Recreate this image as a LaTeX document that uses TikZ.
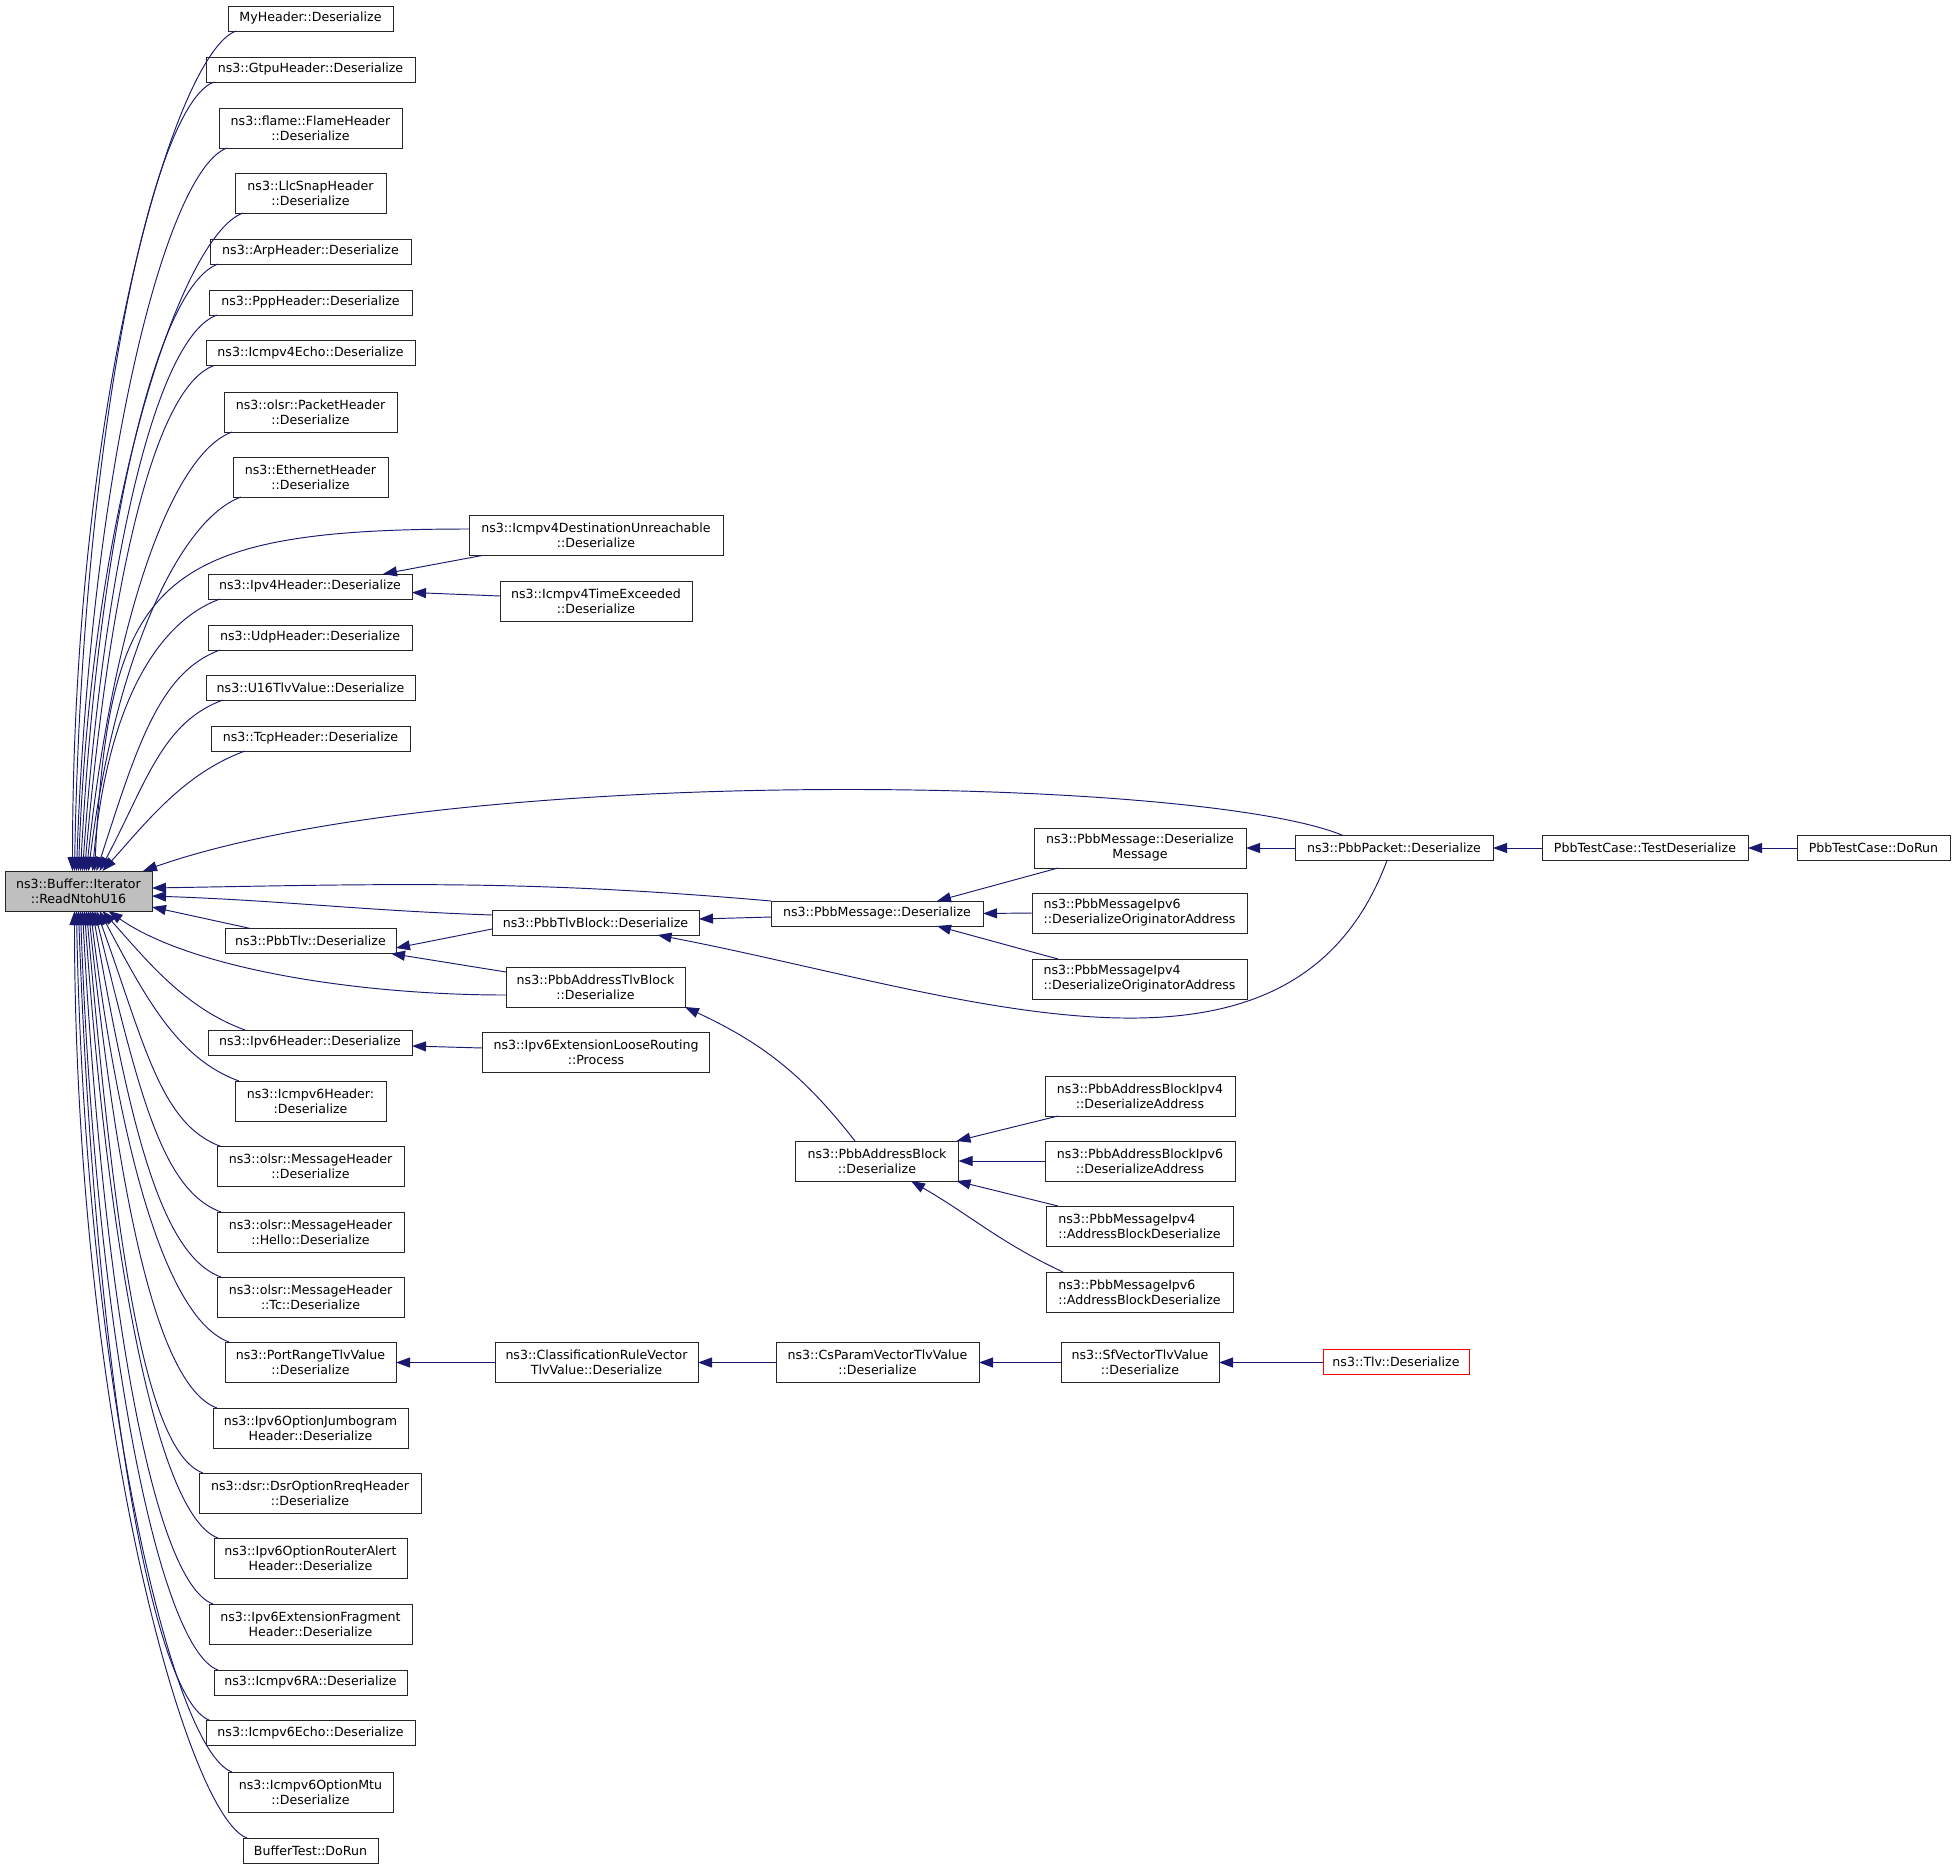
\documentclass[tikz,border=0pt]{standalone}
\usepackage{fontspec}
\setmainfont{DejaVu Sans}
\usepackage{xcolor}
\usepackage{tikz}
\usetikzlibrary{positioning,arrows.meta}
\definecolor{callblue}{HTML}{191970}
\definecolor{maingray}{HTML}{BFBFBF}

\begin{document}
\begin{tikzpicture}[
    x=1pt, y=1pt,
    node distance=49pt,
    outer sep=0pt,
    fn/.style={draw=black!85, fill=white, rectangle, line width=1pt, inner sep=0pt, minimum height=25pt, align=center, font=\fontsize{12.6}{15}\selectfont},
    fntwo/.style={fn, minimum height=40pt},
    call/.style={draw=callblue, line width=0.95pt, arrows={Triangle[length=14pt,width=10pt,fill=callblue]-}}
]
    \useasboundingbox (0,0) rectangle (1955,-1869);

    % the called function
    \node [fntwo, fill=maingray, minimum width=147pt] (main) at (78.5,-891) {ns3::Buffer::Iterator\\::ReadNtohU16};

    % direct callers
    \node [fn, minimum width=165pt] (myhdr) at (310.5,-18.5) {MyHeader::Deserialize};
    \node [fn, minimum width=209pt] (gtpu) at (310.5,-69.5) {ns3::GtpuHeader::Deserialize};
    \node [fntwo, minimum width=183pt] (flame) at (310.5,-128) {ns3::flame::FlameHeader\\::Deserialize};
    \node [fntwo, minimum width=151pt] (llc) at (310.5,-193) {ns3::LlcSnapHeader\\::Deserialize};
    \node [fn, minimum width=201pt] (arp) at (310.5,-251.5) {ns3::ArpHeader::Deserialize};
    \node [fn, minimum width=203pt] (ppp) at (310.5,-302.5) {ns3::PppHeader::Deserialize};
    \node [fn, minimum width=209pt] (icmpfourecho) at (310.5,-353) {ns3::Icmpv4Echo::Deserialize};
    \node [fntwo, minimum width=173pt] (olsrpkt) at (310.5,-412) {ns3::olsr::PacketHeader\\::Deserialize};
    \node [fntwo, minimum width=155pt] (eth) at (310.5,-477) {ns3::EthernetHeader\\::Deserialize};
    \node [fn, minimum width=204pt] (ipfour) at (310,-586.5) {ns3::Ipv4Header::Deserialize};
    \node [fn, minimum width=204pt] (udp) at (310,-637.5) {ns3::UdpHeader::Deserialize};
    \node [fn, minimum width=209pt] (usixteen) at (310.5,-687.5) {ns3::U16TlvValue::Deserialize};
    \node [fn, minimum width=199pt] (tcp) at (310.5,-738.5) {ns3::TcpHeader::Deserialize};
    \node [fn, minimum width=171pt] (pbbtlv) at (310.5,-941) {ns3::PbbTlv::Deserialize};
    \node [fn, minimum width=204pt] (ipsix) at (310,-1042.5) {ns3::Ipv6Header::Deserialize};
    \node [fntwo, minimum width=151pt] (icmpsixhdr) at (310.5,-1101) {ns3::Icmpv6Header:\\:Deserialize};
    \node [fntwo, minimum width=187pt] (olsrmsg) at (310.5,-1166.5) {ns3::olsr::MessageHeader\\::Deserialize};
    \node [fntwo, minimum width=187pt] (hello) at (310.5,-1232) {ns3::olsr::MessageHeader\\::Hello::Deserialize};
    \node [fntwo, minimum width=187pt] (tc) at (310.5,-1297) {ns3::olsr::MessageHeader\\::Tc::Deserialize};
    \node [fntwo, minimum width=171pt] (portrange) at (310.5,-1362) {ns3::PortRangeTlvValue\\::Deserialize};
    \node [fntwo, minimum width=195pt] (jumbo) at (310.5,-1428) {ns3::Ipv6OptionJumbogram\\Header::Deserialize};
    \node [fntwo, minimum width=222pt] (dsr) at (310,-1493) {ns3::dsr::DsrOptionRreqHeader\\::Deserialize};
    \node [fntwo, minimum width=193pt] (routeralert) at (310.5,-1558) {ns3::Ipv6OptionRouterAlert\\Header::Deserialize};
    \node [fntwo, minimum width=203pt] (extfrag) at (310.5,-1624) {ns3::Ipv6ExtensionFragment\\Header::Deserialize};
    \node [fn, minimum width=193pt] (icmpsixra) at (310.5,-1682.5) {ns3::Icmpv6RA::Deserialize};
    \node [fn, minimum width=209pt] (icmpsixecho) at (310.5,-1733) {ns3::Icmpv6Echo::Deserialize};
    \node [fntwo, minimum width=165pt] (mtu) at (310.5,-1792) {ns3::Icmpv6OptionMtu\\::Deserialize};
    \node [fn, minimum width=135pt] (buftest) at (310.5,-1850.5) {BufferTest::DoRun};

    % second level
    \node [fntwo, minimum width=254pt] (destunreach) at (596,-535.5) {ns3::Icmpv4DestinationUnreachable\\::Deserialize};
    \node [fntwo, minimum width=192pt] (timeexc) at (596,-601) {ns3::Icmpv4TimeExceeded\\::Deserialize};
    \node [fn, minimum width=207pt] (tlvblock) at (595.5,-922.5) {ns3::PbbTlvBlock::Deserialize};
    \node [fntwo, minimum width=179pt] (addrtlvblock) at (595.5,-987) {ns3::PbbAddressTlvBlock\\::Deserialize};
    \node [fntwo, minimum width=227pt] (looserouting) at (596,-1052) {ns3::Ipv6ExtensionLooseRouting\\::Process};
    \node [fntwo, minimum width=203pt, right=99pt of portrange] (classrule) {ns3::ClassificationRuleVector\\TlvValue::Deserialize};

    % third level
    \node [fn, minimum width=212pt] (pbbmsg) at (877,-913.5) {ns3::PbbMessage::Deserialize};
    \node [fntwo, minimum width=163pt] (addrblock) at (877,-1161) {ns3::PbbAddressBlock\\::Deserialize};
    \node [fntwo, minimum width=203pt, right=78pt of classrule] (csparam) {ns3::CsParamVectorTlvValue\\::Deserialize};

    % fourth level
    \node [fntwo, minimum width=212pt] (desermsg) at (1140,-848) {ns3::PbbMessage::Deserialize\\Message};
    \node [fntwo, minimum width=215pt, align=left] (ipsixorig) at (1139.5,-913) {ns3::PbbMessageIpv6\\::DeserializeOriginatorAddress};
    \node [fntwo, minimum width=215pt, align=left] (ipfourorig) at (1139.5,-979) {ns3::PbbMessageIpv4\\::DeserializeOriginatorAddress};
    \node [fntwo, minimum width=190pt] (abipfour) at (1140,-1096) {ns3::PbbAddressBlockIpv4\\::DeserializeAddress};
    \node [fntwo, minimum width=190pt] (abipsix) at (1140,-1161) {ns3::PbbAddressBlockIpv6\\::DeserializeAddress};
    \node [fntwo, minimum width=187pt, align=left] (msgipfourab) at (1139.5,-1226) {ns3::PbbMessageIpv4\\::AddressBlockDeserialize};
    \node [fntwo, minimum width=187pt, align=left] (msgipsixab) at (1139.5,-1292) {ns3::PbbMessageIpv6\\::AddressBlockDeserialize};
    \node [fntwo, minimum width=158pt, right=82pt of csparam] (sfvector) {ns3::SfVectorTlvValue\\::Deserialize};

    % right end
    \node [fn, minimum width=198pt, right=of desermsg] (pbbpacket) {ns3::PbbPacket::Deserialize};
    \node [fn, draw=red, minimum width=146pt, right=104pt of sfvector] (tlv) {ns3::Tlv::Deserialize};
    \node [fn, minimum width=206pt, right=of pbbpacket] (testdeser) {PbbTestCase::TestDeserialize};
    \node [fn, minimum width=153pt, right=of testdeser] (dorun) {PbbTestCase::DoRun};

    % calls into main from above and below
    \foreach \n/\s/\a/\d/\t in {myhdr/-6/90/470/8, gtpu/-4/89/440/8, flame/-2/88/405/8, llc/0/88/370/8,
        arp/2/87/340/8, ppp/4/86/310/8, icmpfourecho/6/85/285/8, olsrpkt/8/84/250/8, eth/10/83/215/8,
        ipfour/14/85/170/12, udp/18/72/130/12, usixteen/21/62/100/17, tcp/24/48/65/34}
        \draw[call] ([xshift=\s pt]main.north) to[out=\a, in=200, out distance=\d pt, in distance=65pt] ([xshift=\t pt]\n.south west);
    \foreach \n/\s/\a/\d/\t in {ipsix/24/-48/65/37, icmpsixhdr/21/-62/100/4, olsrmsg/18/-70/140/4, hello/16/-76/180/4,
        tc/14/-80/215/4, portrange/12/-83/250/4, jumbo/10/-84/285/4, dsr/8/-85/315/4, routeralert/6/-86/345/4,
        extfrag/4/-87/380/4, icmpsixra/2/-88/410/4, icmpsixecho/0/-88/440/4, mtu/-2/-89/465/4, buftest/-4/-90/500/4}
        \draw[call] ([xshift=\s pt]main.south) to[out=\a, in=160, out distance=\d pt, in distance=65pt] ([xshift=\t pt]\n.north west);

    \draw[call] ([xshift=16pt]main.north) to[out=87, in=180, out distance=290pt, in distance=315pt] ([yshift=6.5pt]destunreach.west);
    \draw[call] ([xshift=-9pt]main.north east) .. controls +(307,108) and +(-143,60) .. ([xshift=-51pt]pbbpacket.north);
    \draw[call] ([yshift=3pt]main.east) to[out=1, in=175] (pbbmsg.north west);
    \draw[call] ([yshift=-5pt]main.east) to[out=-2, in=178] ([yshift=7.5pt]tlvblock.west);
    \draw[call] ([yshift=4pt]main.south east) -- ([xshift=-60pt]pbbtlv.north);
    \draw[call] ([xshift=30pt]main.south) to[out=-35, in=180, out distance=100pt, in distance=150pt] ([yshift=-8pt]addrtlvblock.west);

    % other calls
    \draw[call] ([xshift=73pt]ipfour.north) -- ([xshift=13pt]destunreach.south west);
    \draw[call] ([yshift=-6pt]ipfour.east) -- ([yshift=5pt]timeexc.west);
    \draw[call] ([yshift=-7pt]pbbtlv.east) -- ([yshift=-6.5pt]tlvblock.west);
    \draw[call] ([xshift=-5pt]pbbtlv.south east) -- ([yshift=-5pt]addrtlvblock.north west);
    \draw[call] ([yshift=3.5pt]tlvblock.east) -- ([yshift=-3.5pt]pbbmsg.west);
    \draw[call] ([xshift=62pt]tlvblock.south) .. controls +(302,-58) and +(-97,-260) .. ([xshift=-7pt]pbbpacket.south);
    \draw[call] ([xshift=60pt]pbbmsg.north) -- ([xshift=24pt]desermsg.south west);
    \draw[call] (pbbmsg.east) -- (ipsixorig.west);
    \draw[call] ([xshift=60pt]pbbmsg.south) -- ([xshift=26pt]ipfourorig.north west);
    \draw[call] (desermsg) -- (pbbpacket);
    \draw[call] (pbbpacket) -- (testdeser);
    \draw[call] (testdeser) -- (dorun);
    \draw[call] (addrtlvblock.south east) to[out=-25, in=128] ([xshift=-22pt]addrblock.north);
    \draw[call] ([xshift=-2pt]addrblock.north east) -- ([xshift=13pt]abipfour.south west);
    \draw[call] (addrblock) -- (abipsix);
    \draw[call] ([xshift=-2pt]addrblock.south east) -- ([xshift=12pt]msgipfourab.north west);
    \draw[call] ([xshift=34pt]addrblock.south) to[out=-30, in=155] ([xshift=17pt]msgipsixab.north west);
    \draw[call] ([yshift=-3.5pt]ipsix.east) -- ([yshift=4pt]looserouting.west);
    \draw[call] ([yshift=-0.5pt]portrange.east) -- ([yshift=-0.5pt]classrule.west);
    \draw[call] ([yshift=-0.5pt]classrule.east) -- ([yshift=-0.5pt]csparam.west);
    \draw[call] ([yshift=-0.5pt]csparam.east) -- ([yshift=-0.5pt]sfvector.west);
    \draw[call] ([yshift=-0.5pt]sfvector.east) -- ([yshift=-0.5pt]tlv.west);
\end{tikzpicture}
\end{document}
